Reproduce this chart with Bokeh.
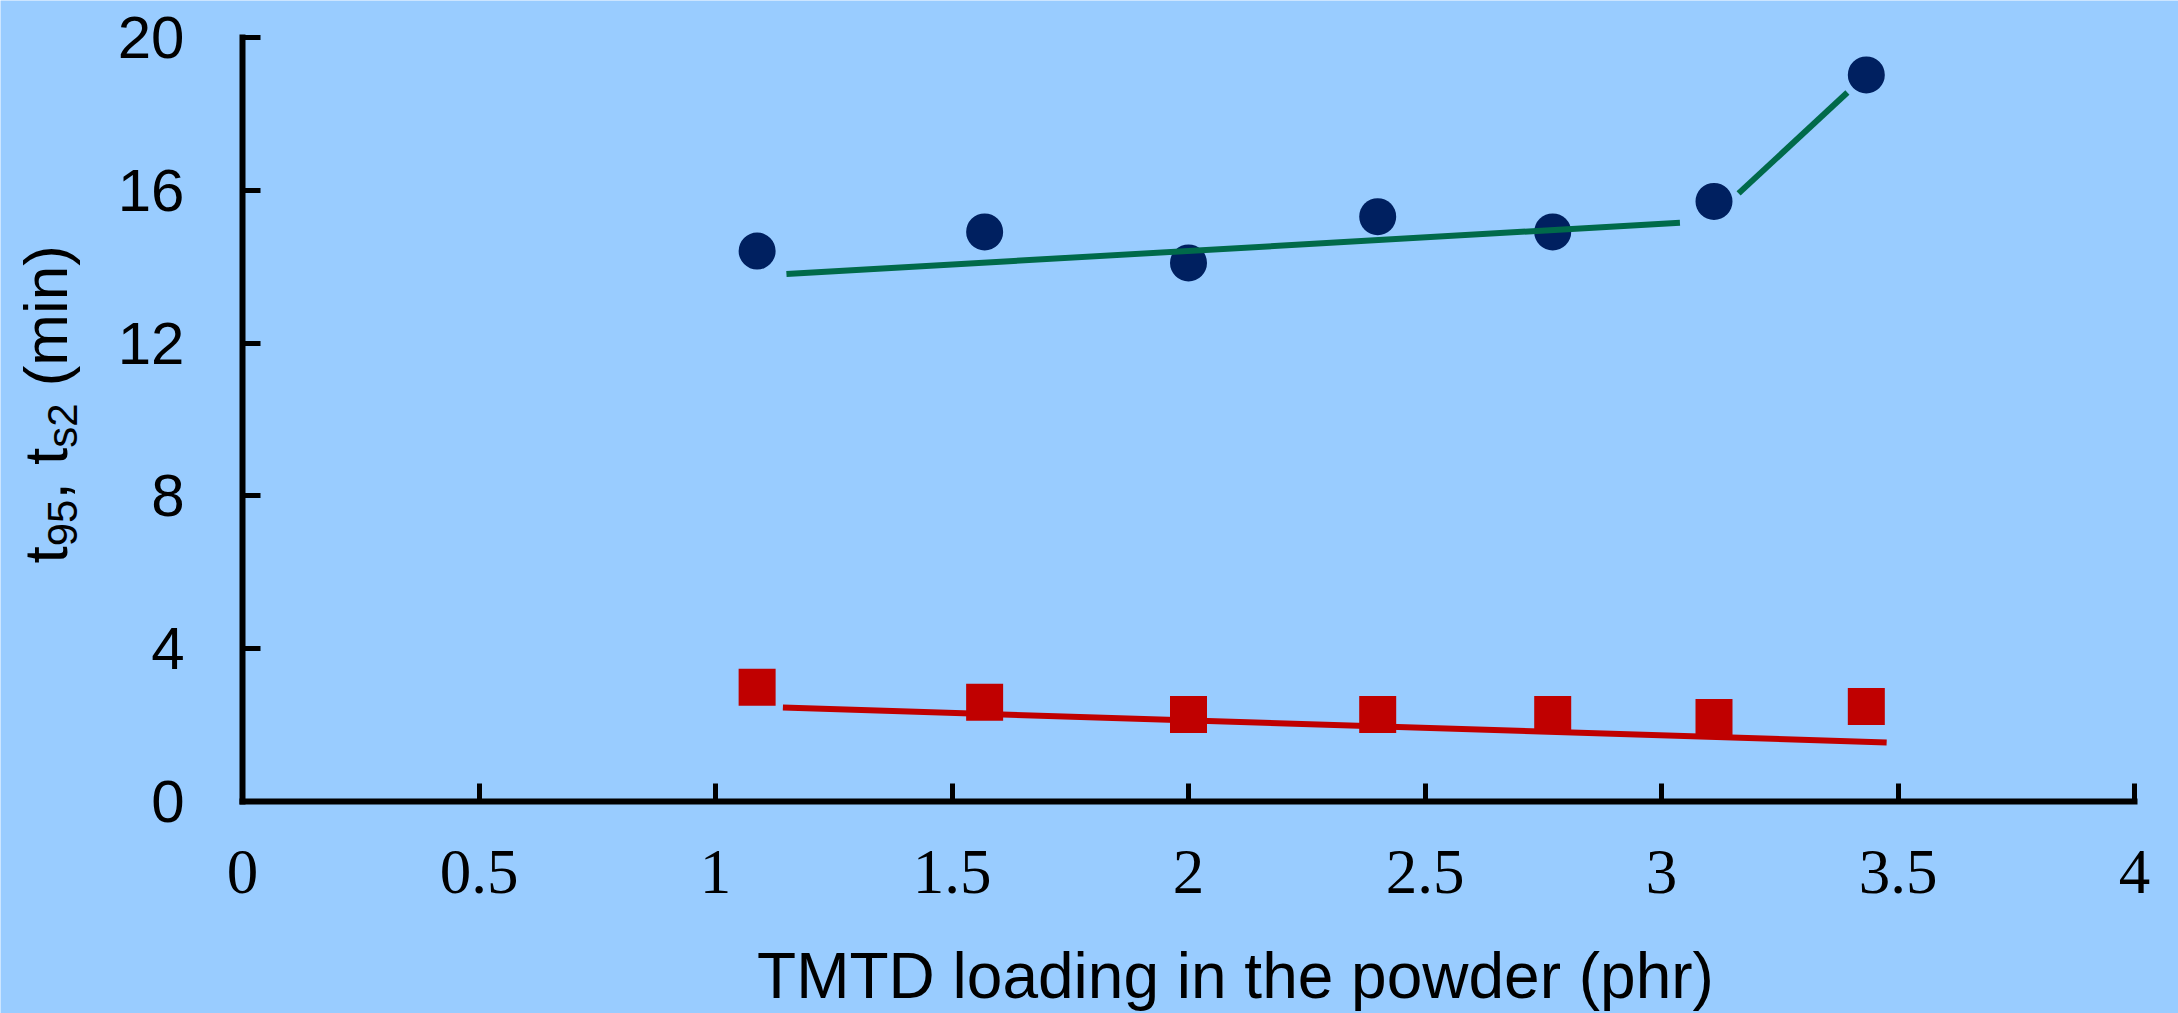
import math
from bokeh.plotting import figure
from bokeh.models import Range1d, FixedTicker, NumeralTickFormatter, Label
from bokeh.embed import file_html
from bokeh.resources import INLINE

# ---- data ----
tmtd = [1.088, 1.569, 2.000, 2.400, 2.770, 3.111, 3.433]
t95 = [14.41, 14.91, 14.10, 15.31, 14.91, 15.71, 19.02]
ts2 = [2.99, 2.60, 2.28, 2.28, 2.28, 2.20, 2.49]

fit_t95_a_x = [1.150, 3.039]
fit_t95_a_y = [13.81, 15.15]
fit_t95_b_x = [3.163, 3.393]
fit_t95_b_y = [15.92, 18.56]
fit_ts2_x = [1.1425, 3.476]
fit_ts2_y = [2.46, 1.545]

x_ticks = [0, 0.5, 1, 1.5, 2, 2.5, 3, 3.5, 4]
y_ticks = [0, 4, 8, 12, 16, 20]

x_title = "TMTD loading in the powder (phr)"

# ---- layout (pixel geometry of the axes box) ----
W, H = 2178, 1013
FL, FR, FT, FB = 242, 2134, 37, 801
X0, X1, Y0, Y1 = 0, 4, 0, 20

BG = "#99CCFF"
NAVY = "#002060"
GREEN = "#006A4A"
RED = "#C00000"

# the plotting frame spans the whole canvas; axes sit at fixed locations
kx = (X1 - X0) / (FR - FL)
ky = (Y1 - Y0) / (FB - FT)
xr = Range1d(X0 - FL * kx, X1 + (W - FR) * kx)
yr = Range1d(Y0 - (H - FB) * ky, Y1 + FT * ky)


def dx(sx):
    return X0 + (sx - FL) * kx


def dy(sy):
    return Y0 + (FB - sy) * ky


p = figure(width=W, height=H, x_range=xr, y_range=yr,
           output_backend="svg", toolbar_location=None,
           min_border=0, x_axis_location="below", y_axis_location="left")
p.title.visible = False
p.background_fill_color = BG
p.border_fill_color = BG
p.outline_line_color = None
p.xgrid.visible = False
p.ygrid.visible = False

xa = p.xaxis[0]
ya = p.yaxis[0]
xa.fixed_location = Y0
ya.fixed_location = X0
xa.bounds = (X0, X1)
ya.bounds = (Y0, Y1)

for ax in (xa, ya):
    ax.axis_line_width = 6
    ax.axis_line_color = "black"
    ax.axis_line_cap = "square"
    ax.major_tick_line_width = 5
    ax.major_tick_line_color = "black"
    ax.major_tick_in = 18
    ax.major_tick_out = 0
    ax.minor_tick_in = 0
    ax.minor_tick_out = 0
    ax.major_label_text_color = "black"

xa.ticker = FixedTicker(ticks=x_ticks, minor_ticks=[])
xa.formatter = NumeralTickFormatter(format="0.[0]")
xa.major_label_text_font = "Liberation Serif"
xa.major_label_text_font_size = "63px"
xa.major_label_standoff = 49

ya.ticker = FixedTicker(ticks=y_ticks, minor_ticks=[])
ya.major_label_text_font = "Liberation Sans"
ya.major_label_text_font_size = "60px"
ya.major_label_standoff = 58

# markers
p.scatter(tmtd, t95, marker="circle", size=37, fill_color=NAVY, line_color=None)
p.scatter(tmtd, ts2, marker="square", size=37, fill_color=RED, line_color=None)

# fitted lines
p.line(fit_t95_a_x, fit_t95_a_y, line_color=GREEN, line_width=6)
p.line(fit_t95_b_x, fit_t95_b_y, line_color=GREEN, line_width=6)
p.line(fit_ts2_x, fit_ts2_y, line_color=RED, line_width=6)

# x-axis title
p.add_layout(Label(x=dx(1235), y=dy(975), text=x_title, text_align="center",
                   text_baseline="alphabetic", text_font="Liberation Sans",
                   text_font_size="64px", text_color="black"))

# y-axis title with subscripts, rotated
MAIN, SUB = 62, 42
adv = {"t": .278, "9": .556, "5": .556, ",": .278, " ": .278, "s": .5, "2": .556,
       "(": .333, "m": .833, "i": .222, "n": .556, ")": .333}
pieces = [("t", False), ("95", True), (", t", False), ("s2", True), ("\u00a0(min)", False)]
sy = 563.0
for txt, sub in pieces:
    fs = SUB if sub else MAIN
    sx = 62 if sub else 45
    p.add_layout(Label(x=dx(sx), y=dy(sy), text=txt, angle=math.pi / 2,
                       text_align="left", text_baseline="alphabetic",
                       text_font="Liberation Sans", text_font_size=f"{fs}px",
                       text_color="black"))
    sy -= sum(adv.get(c, .278) for c in txt) * fs

open("out.html", "w").write(file_html(p, INLINE))
